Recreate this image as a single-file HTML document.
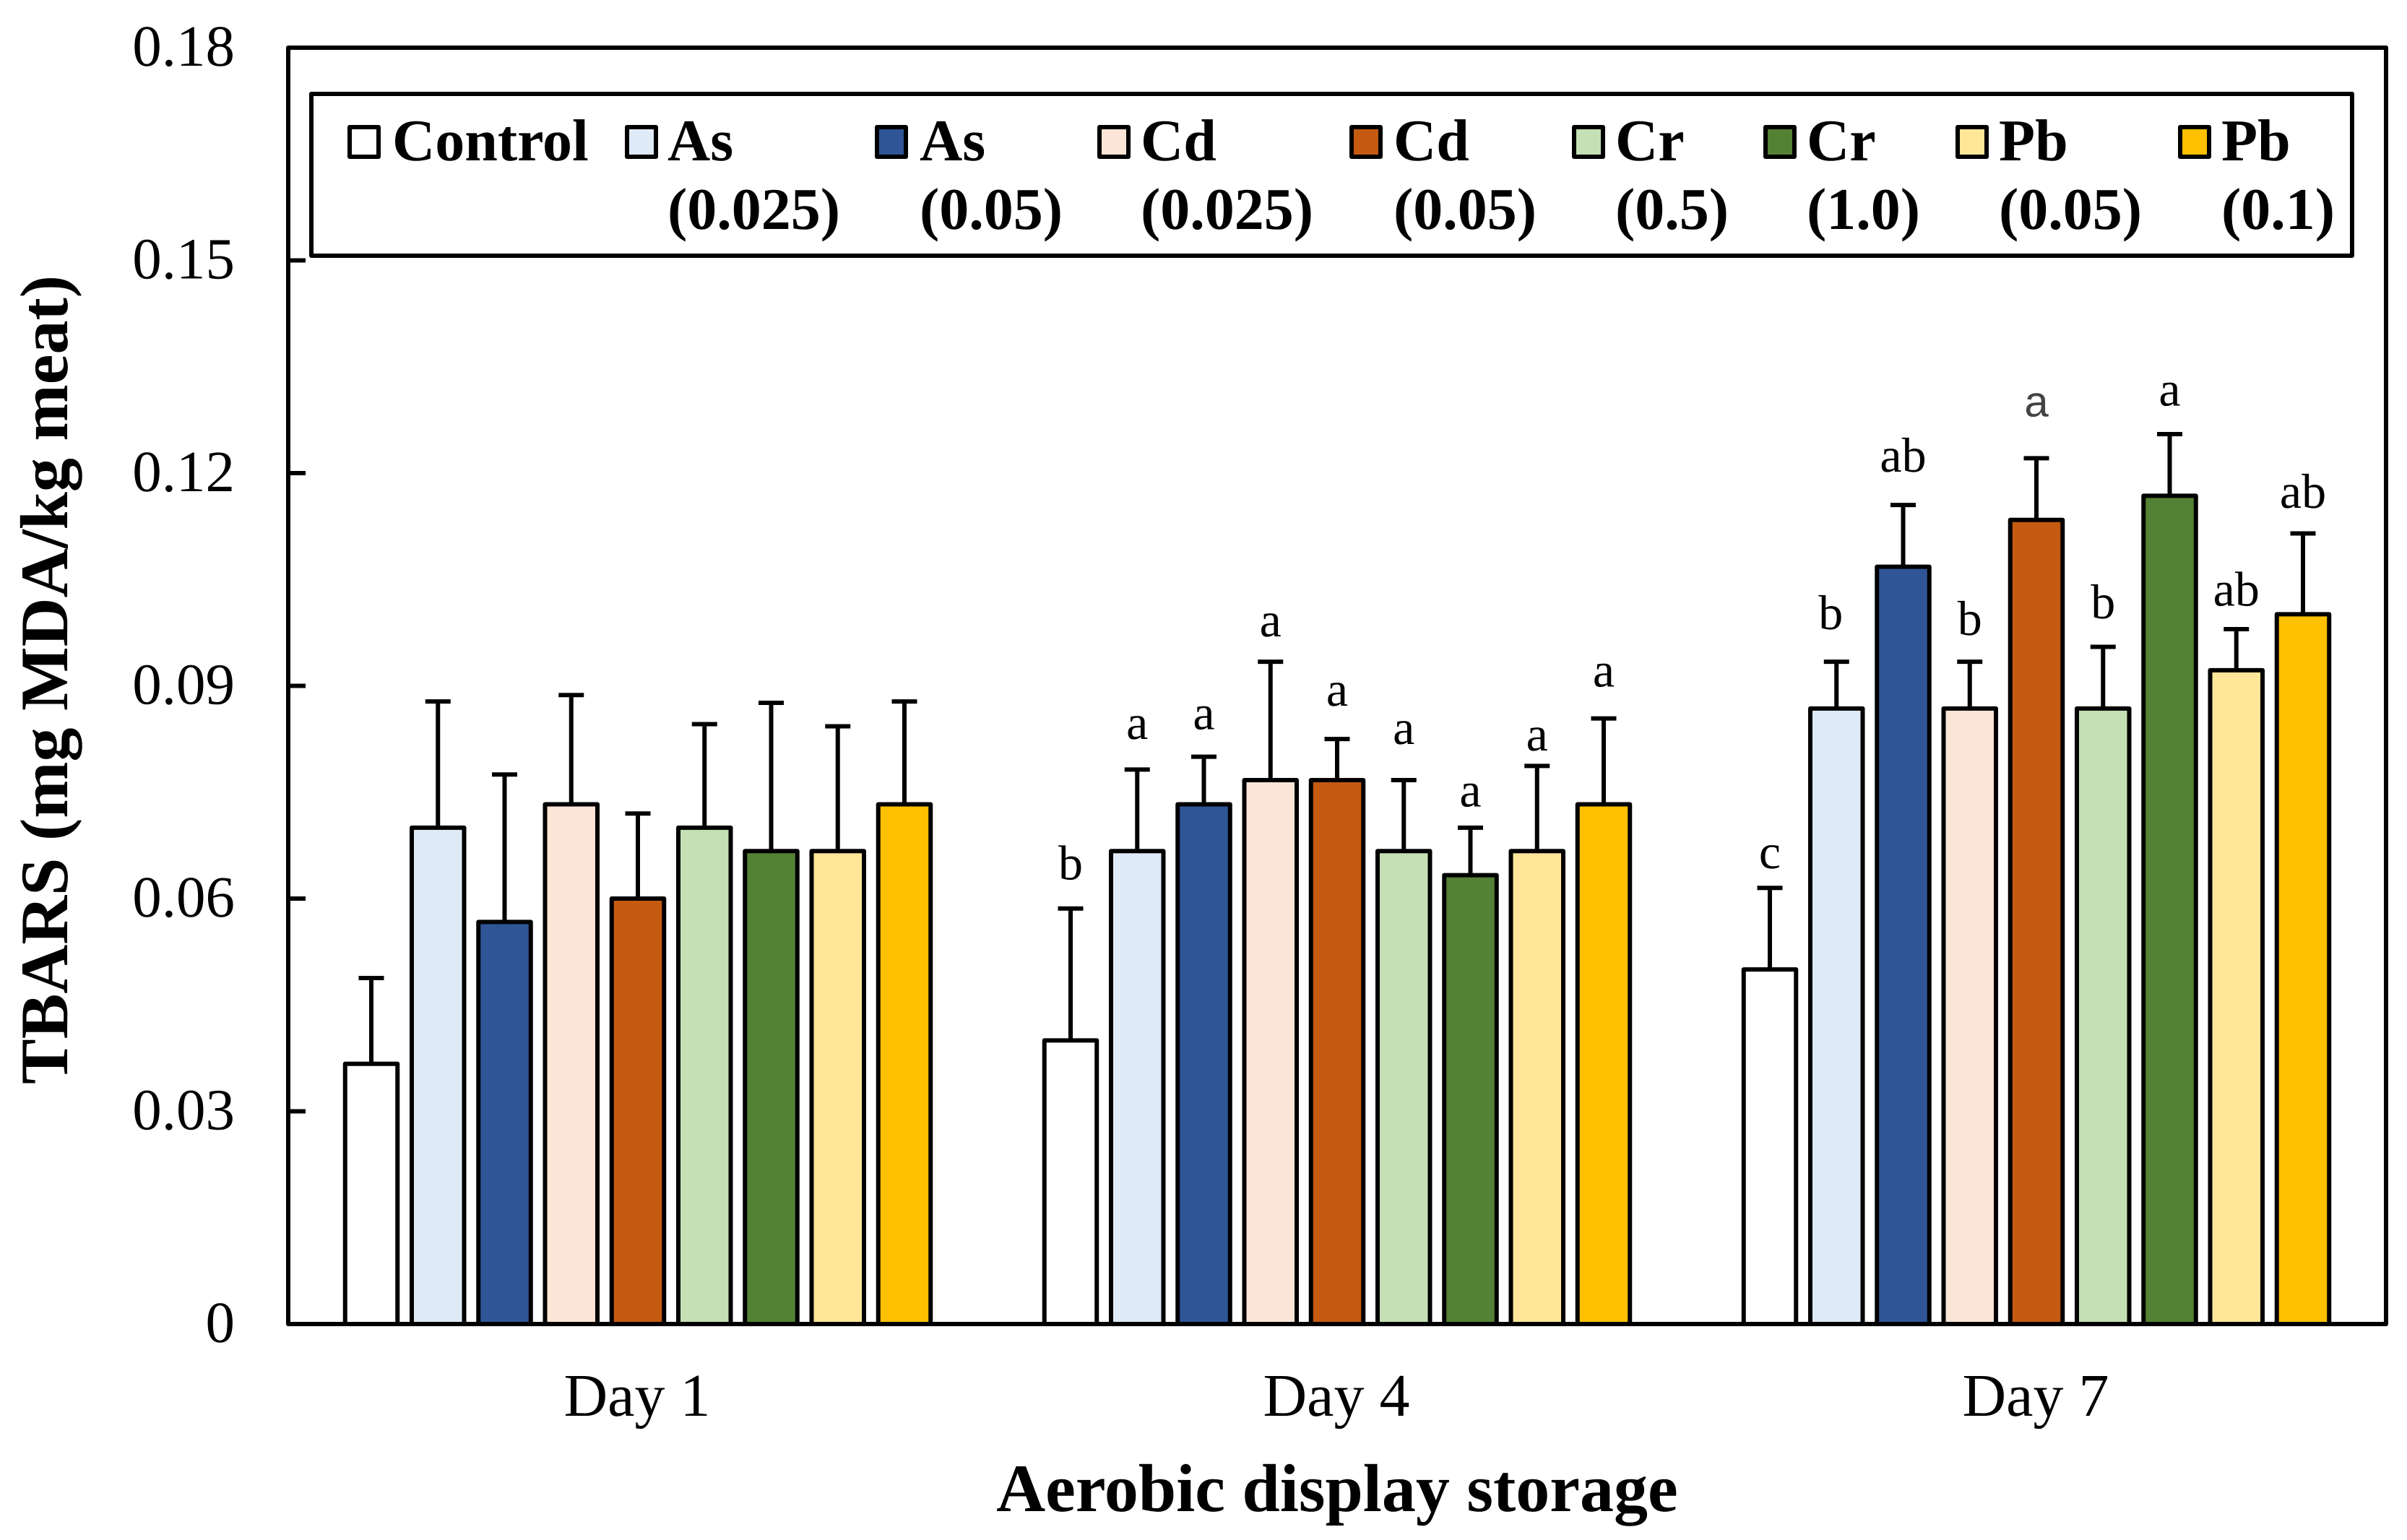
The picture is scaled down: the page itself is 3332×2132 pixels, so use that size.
<!DOCTYPE html>
<html lang="en">
<head>
<meta charset="utf-8">
<title>TBARS by aerobic display storage</title>
<style>
  html, body { margin: 0; padding: 0; background: #fff; }
  svg { display: block; }
  text { font-family: "Liberation Serif", "Times New Roman", serif; fill: #000; text-rendering: geometricPrecision; }
  .b { font-weight: 700; }
</style>
</head>
<body>
<svg id="chart" xmlns="http://www.w3.org/2000/svg" width="3332" height="2132" viewBox="0 0 3332 2132">
  <rect x="0" y="0" width="3332" height="2132" fill="#fff"/>
  <g id="ticks"></g>
  <g id="bars"></g>
  <rect x="399" y="66" width="2904" height="1767" fill="none" stroke="#000" stroke-width="6" stroke-linejoin="round"/>
  <g id="cats"></g>
  <text class="b" font-size="94" transform="translate(93 1501) rotate(-90)">TBARS (mg MDA/kg meat)</text>
  <text class="b" font-size="94" x="1851" y="2092" text-anchor="middle">Aerobic display storage</text>

  <g font-size="82">
    <rect x="431" y="130" width="2825" height="224" fill="#fff" stroke="#000" stroke-width="6" stroke-linejoin="round"/>
    <g>
      <rect x="484" y="176" width="40" height="41" fill="#fff" stroke="#000" stroke-width="6" stroke-linejoin="round"/>
      <text class="b" x="543" y="222">Control</text>
    </g>
    <g>
      <rect x="868" y="176" width="40" height="41" fill="#DEEAF6" stroke="#000" stroke-width="6" stroke-linejoin="round"/>
      <text class="b" x="924" y="222">As</text>
      <text class="b" x="924" y="317">(0.025)</text>
    </g>
    <g>
      <rect x="1214" y="176" width="40" height="41" fill="#2F5597" stroke="#000" stroke-width="6" stroke-linejoin="round"/>
      <text class="b" x="1273" y="222">As</text>
      <text class="b" x="1273" y="317">(0.05)</text>
    </g>
    <g>
      <rect x="1522" y="176" width="40" height="41" fill="#FBE5D6" stroke="#000" stroke-width="6" stroke-linejoin="round"/>
      <text class="b" x="1579" y="222">Cd</text>
      <text class="b" x="1579" y="317">(0.025)</text>
    </g>
    <g>
      <rect x="1871" y="176" width="40" height="41" fill="#C55A11" stroke="#000" stroke-width="6" stroke-linejoin="round"/>
      <text class="b" x="1929" y="222">Cd</text>
      <text class="b" x="1929" y="317">(0.05)</text>
    </g>
    <g>
      <rect x="2179" y="176" width="40" height="41" fill="#C5E0B4" stroke="#000" stroke-width="6" stroke-linejoin="round"/>
      <text class="b" x="2236" y="222">Cr</text>
      <text class="b" x="2236" y="317">(0.5)</text>
    </g>
    <g>
      <rect x="2444" y="176" width="40" height="41" fill="#548235" stroke="#000" stroke-width="6" stroke-linejoin="round"/>
      <text class="b" x="2501" y="222">Cr</text>
      <text class="b" x="2501" y="317">(1.0)</text>
    </g>
    <g>
      <rect x="2710" y="176" width="40" height="41" fill="#FFE699" stroke="#000" stroke-width="6" stroke-linejoin="round"/>
      <text class="b" x="2767" y="222">Pb</text>
      <text class="b" x="2767" y="317">(0.05)</text>
    </g>
    <g>
      <rect x="3018" y="176" width="40" height="41" fill="#FFC000" stroke="#000" stroke-width="6" stroke-linejoin="round"/>
      <text class="b" x="3075" y="222">Pb</text>
      <text class="b" x="3075" y="317">(0.1)</text>
    </g>
  </g>
</svg>
<script>
const categories = ['Day 1', 'Day 4', 'Day 7'];
const seriesNames = ['control', 'as-0025', 'as-005', 'cd-0025', 'cd-005', 'cr-05', 'cr-10', 'pb-005', 'pb-01'];
const seriesColors = ['#FFFFFF', '#DEEAF6', '#2F5597', '#FBE5D6', '#C55A11', '#C5E0B4', '#548235', '#FFE699', '#FFC000'];
const yTickValues = [0, 0.03, 0.06, 0.09, 0.12, 0.15, 0.18];
const yTickLabels = ['0', '0.03', '0.06', '0.09', '0.12', '0.15', '0.18'];

const valuesDay1 = [0.0367, 0.0700, 0.0567, 0.0733, 0.0600, 0.0700, 0.0667, 0.0667, 0.0733];
const valuesDay4 = [0.0400, 0.0667, 0.0733, 0.0767, 0.0767, 0.0667, 0.0633, 0.0667, 0.0733];
const valuesDay7 = [0.0500, 0.0868, 0.1068, 0.0868, 0.1134, 0.0868, 0.1168, 0.0922, 0.1001];

const errorsDay1 = [0.0121, 0.0178, 0.0208, 0.0154, 0.0120, 0.0146, 0.0209, 0.0176, 0.0145];
const errorsDay4 = [0.0186, 0.0115, 0.0067, 0.0167, 0.0058, 0.0100, 0.0067, 0.0120, 0.0121];
const errorsDay7 = [0.0115, 0.0066, 0.0087, 0.0066, 0.0087, 0.0087, 0.0087, 0.0058, 0.0114];

const lettersDay1 = ['', '', '', '', '', '', '', '', ''];
const lettersDay4 = ['b', 'a', 'a', 'a', 'a', 'a', 'a', 'a', 'a'];
const lettersDay7 = ['c', 'b', 'ab', 'b', 'a', 'b', 'a', 'ab', 'ab'];

/* clearance between error cap and significance letter, in TBARS units */
const letterGapsDay1 = [0, 0, 0, 0, 0, 0, 0, 0, 0];
const letterGapsDay4 = [0.0041, 0.0043, 0.0039, 0.0036, 0.0047, 0.0051, 0.0030, 0.0022, 0.0045];
const letterGapsDay7 = [0.0028, 0.0046, 0.0047, 0.0038, 0.0059, 0.0040, 0.0040, 0.0033, 0.0036];

const allValues = [valuesDay1, valuesDay4, valuesDay7];
const allErrors = [errorsDay1, errorsDay4, errorsDay7];
const allLetters = [lettersDay1, lettersDay4, lettersDay7];
const allGaps = [letterGapsDay1, letterGapsDay4, letterGapsDay7];

const NS = 'http://www.w3.org/2000/svg';
const plotLeft = 399, plotRight = 3303, plotTop = 66, plotBottom = 1833;
const yMax = 0.18;
const barStep = 92.25, barWidth = 72.5;

function yScale(v) { return plotBottom - (v / yMax) * (plotBottom - plotTop); }
function groupCenter(g) { return plotLeft + (g + 0.5) * (plotRight - plotLeft) / categories.length; }
function barCenter(g, s) { return groupCenter(g) + (s - (seriesNames.length - 1) / 2) * barStep; }
function make(tag, attrs) {
  const el = document.createElementNS(NS, tag);
  for (const k in attrs) el.setAttribute(k, attrs[k]);
  return el;
}

const tickLayer = document.getElementById('ticks');
yTickValues.forEach((v, i) => {
  if (v > 0 && v < yMax) {
    const tick = make('line', { x1: plotLeft, x2: plotLeft + 24, y1: yScale(v), y2: yScale(v), stroke: '#000', 'stroke-width': 6 });
    
    
    tickLayer.appendChild(tick);
  }
  const label = make('text', { x: 325, y: yScale(v) + 25, 'text-anchor': 'end', 'font-size': 81 });
  
  
  label.textContent = yTickLabels[i];
  tickLayer.appendChild(label);
});

const catLayer = document.getElementById('cats');
categories.forEach((c, g) => {
  const label = make('text', { x: groupCenter(g) - 1, y: 1960, 'text-anchor': 'middle', 'font-size': 84 });
  
  
  label.textContent = c;
  catLayer.appendChild(label);
});

const barLayer = document.getElementById('bars');
categories.forEach((c, g) => {
  seriesNames.forEach((name, s) => {
    const v = allValues[g][s];
    const e = allErrors[g][s];
    const cx = barCenter(g, s);
    const top = yScale(v);
    const capY = yScale(v + e);

    const whisker = make('line', { x1: cx, x2: cx, y1: capY, y2: top, stroke: '#000', 'stroke-width': 6 });
    
    
    barLayer.appendChild(whisker);

    const cap = make('line', { x1: cx - 17.5, x2: cx + 17.5, y1: capY, y2: capY, stroke: '#000', 'stroke-width': 6 });
    
    
    barLayer.appendChild(cap);

    const bar = make('rect', {
      x: cx - barWidth / 2, y: top, width: barWidth, height: yScale(0) - top,
      fill: seriesColors[s], stroke: '#000', 'stroke-width': 6, 'stroke-linejoin': 'round'
    });
    
    
    barLayer.appendChild(bar);

    const letter = allLetters[g][s];
    if (letter) {
      const oddGlyph = g === 2 && s === 4;
      const leftLeaning = g === 2 && s === 1;
      const text = make('text', {
        x: cx + (leftLeaning ? -8 : 0), y: yScale(v + e + allGaps[g][s]), 'text-anchor': 'middle',
        'font-size': oddGlyph ? 60 : 68
      });
      if (oddGlyph) {
        text.setAttribute('style', 'font-family:"Liberation Sans",sans-serif;fill:#444');
      }
      
      
      text.textContent = letter;
      barLayer.appendChild(text);
    }
  });
});
</script>
</body>
</html>
